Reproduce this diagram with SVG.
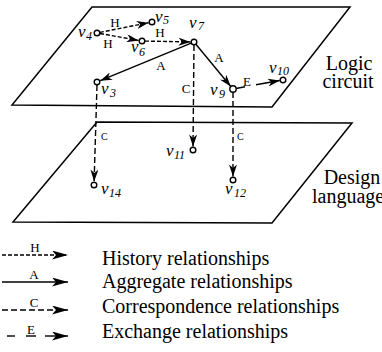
<svg xmlns="http://www.w3.org/2000/svg" width="382" height="352" viewBox="0 0 382 352">
<style>
.plane{fill:none;stroke:#000;stroke-width:1.5;stroke-linejoin:miter}
.e{fill:none;stroke:#000;stroke-width:1.4}
.h{stroke-dasharray:4 2}
.c{stroke-dasharray:6 3}
.nd{fill:#fff;stroke:#000;stroke-width:1.4}
.v{font-family:"Liberation Serif",serif;font-style:italic;font-size:17px;fill:#000}
.s{font-family:"Liberation Serif",serif;font-style:italic;font-size:12px;fill:#000}
.lb{font-family:"Liberation Serif",serif;font-size:13px;fill:#000}
.sm{font-family:"Liberation Serif",serif;font-size:10px;fill:#000}
.t{font-family:"Liberation Serif",serif;font-size:20px;fill:#000}
</style>
<defs>
<marker id="ah" viewBox="0 0 12 8" refX="12" refY="4" markerWidth="12" markerHeight="8" markerUnits="userSpaceOnUse" orient="auto">
<path d="M0,0 L12,4 L0,8 L3.5,4 Z" fill="#000"/>
</marker>
<marker id="ahL" viewBox="0 0 16 9" refX="16" refY="4.5" markerWidth="16" markerHeight="9" markerUnits="userSpaceOnUse" orient="auto">
<path d="M0,0 L16,4.5 L0,9 L4,4.5 Z" fill="#000"/>
</marker>
</defs>

<g id="planes">
<polygon id="logic-plane" class="plane" points="92,7 350,7 272,107 12,105"/>
<polygon id="design-plane" class="plane" points="97,122 352,123 272,223 13,222"/>
<text class="t" x="349" y="70" text-anchor="middle">Logic</text>
<text class="t" x="348" y="88" text-anchor="middle">circuit</text>
<text class="t" x="352" y="184" text-anchor="middle">Design</text>
<text class="t" x="312" y="203">language</text>
</g>

<g id="connectors">
<line class="e h" x1="99.9" y1="32.4" x2="148.6" y2="22.7" marker-end="url(#ah)"/>
<text class="lb" x="115" y="27" text-anchor="middle">H</text>
<line class="e h" x1="100" y1="33.5" x2="138.6" y2="40.4" marker-end="url(#ah)"/>
<text class="lb" x="108" y="48" text-anchor="middle">H</text>
<line class="e h" x1="145" y1="41.1" x2="190.5" y2="41.9" marker-end="url(#ah)"/>
<text class="lb" x="160" y="37" text-anchor="middle">H</text>
<line class="e" x1="191.2" y1="43.1" x2="100.2" y2="80.7" marker-end="url(#ah)"/>
<text class="lb" x="161" y="70" text-anchor="middle">A</text>
<line class="e" x1="195.9" y1="44.3" x2="230.8" y2="86.5" marker-end="url(#ah)"/>
<text class="lb" x="219" y="62" text-anchor="middle">A</text>
<line class="e c" x1="194" y1="45" x2="193" y2="146.5" marker-end="url(#ah)"/>
<text class="lb" x="186" y="93" text-anchor="middle">C</text>
<line class="e c" x1="97" y1="85" x2="94.1" y2="181.5" marker-end="url(#ah)"/>
<text class="sm" x="101" y="140">C</text>
<line class="e c" x1="233" y1="92" x2="233" y2="176.5" marker-end="url(#ah)"/>
<text class="sm" x="237" y="140">C</text>
<line class="e" x1="236" y1="88.5" x2="245" y2="86.8"/>
<line class="e" x1="256" y1="84.8" x2="279.8" y2="80.5" marker-end="url(#ah)"/>
<text class="lb" x="247" y="86" text-anchor="middle">E</text>
</g>

<g id="v4"><circle class="nd" cx="97" cy="33" r="2.8"/><text class="v" x="78" y="37">v</text><text class="s" x="86" y="40">4</text></g>
<g id="v5"><circle class="nd" cx="152" cy="22" r="2.8"/><text class="v" x="155" y="22">v</text><text class="s" x="163" y="24">5</text></g>
<g id="v6"><circle class="nd" cx="142" cy="41" r="2.8"/><text class="v" x="131" y="52">v</text><text class="s" x="139" y="56">6</text></g>
<g id="v7"><circle class="nd" cx="194" cy="42" r="2.8"/><text class="v" x="189" y="28">v</text><text class="s" x="198" y="30">7</text></g>
<g id="v3"><circle class="nd" cx="97" cy="82" r="2.8"/><text class="v" x="101" y="94">v</text><text class="s" x="110" y="97">3</text></g>
<g id="v9"><circle class="nd" cx="233" cy="89" r="3.2"/><text class="v" x="210" y="95">v</text><text class="s" x="219" y="98">9</text></g>
<g id="v10"><circle class="nd" cx="283" cy="80" r="2.8"/><text class="v" x="269" y="73">v</text><text class="s" x="277" y="75">10</text></g>
<g id="v11"><circle class="nd" cx="193" cy="150" r="2.8"/><text class="v" x="166" y="156">v</text><text class="s" x="174" y="159">11</text></g>
<g id="v14"><circle class="nd" cx="94" cy="185" r="2.8"/><text class="v" x="101" y="194">v</text><text class="s" x="109" y="197">14</text></g>
<g id="v12"><circle class="nd" cx="233" cy="180" r="2.8"/><text class="v" x="225" y="194">v</text><text class="s" x="234" y="197">12</text></g>

<g id="legend">
<line class="e h" x1="2" y1="255" x2="68" y2="255" marker-end="url(#ahL)"/>
<text class="lb" x="35" y="252" text-anchor="middle">H</text>
<text class="t" x="102" y="265">History relationships</text>
<line class="e" x1="2" y1="282" x2="68" y2="282" marker-end="url(#ahL)"/>
<text class="lb" x="34" y="279" text-anchor="middle">A</text>
<text class="t" x="102" y="288">Aggregate relationships</text>
<line class="e c" x1="2" y1="310" x2="68" y2="310" marker-end="url(#ahL)"/>
<text class="lb" x="34" y="307" text-anchor="middle">C</text>
<text class="t" x="102" y="313">Correspondence relationships</text>
<line class="e" x1="7" y1="336" x2="15" y2="336"/>
<line class="e" x1="26" y1="336" x2="36" y2="336"/>
<line class="e" x1="45" y1="336" x2="68" y2="336" marker-end="url(#ahL)"/>
<text class="lb" x="31" y="334" text-anchor="middle">E</text>
<text class="t" x="102" y="338">Exchange relationships</text>
</g>
</svg>
